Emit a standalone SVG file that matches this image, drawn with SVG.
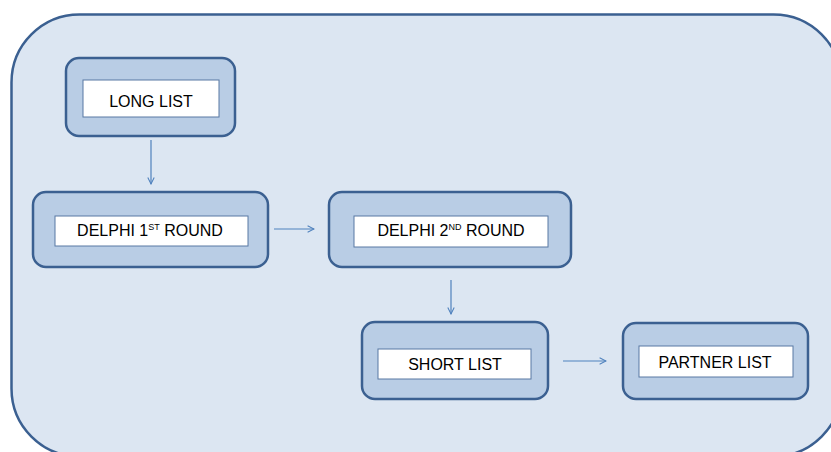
<svg xmlns="http://www.w3.org/2000/svg" width="831" height="452" viewBox="0 0 831 452">
<defs>
<style>
.box{fill:#B9CDE5;stroke:#3B6091;stroke-width:2.5}
.inner{fill:#FFFFFF;stroke:#5878A3;stroke-width:1}
.lbl{font-family:"Liberation Sans",Arial,sans-serif;font-size:16px;fill:#000;text-anchor:middle}
.sup{font-size:9px}
.conn{stroke:#4F81BD;stroke-width:1.2;fill:none}
</style>
<marker id="arr" viewBox="0 0 10 10" refX="9" refY="5" markerWidth="8" markerHeight="8" markerUnits="userSpaceOnUse" orient="auto">
<path d="M1,1 L9,5 L1,9" fill="none" stroke="#4F81BD" stroke-width="1.3"/>
</marker>
</defs>
<rect x="0" y="0" width="831" height="452" fill="#FFFFFF"/>
<rect id="background" x="11.5" y="14.5" width="830" height="442" rx="68" ry="68" fill="#DCE6F2" stroke="#3B6091" stroke-width="2.5"/>
<g id="connectors">
<line class="conn" x1="151" y1="140" x2="151" y2="184" marker-end="url(#arr)"/>
<line class="conn" x1="274" y1="229" x2="314" y2="229" marker-end="url(#arr)"/>
<line class="conn" x1="451" y1="280" x2="451" y2="314" marker-end="url(#arr)"/>
<line class="conn" x1="563" y1="361" x2="606" y2="361" marker-end="url(#arr)"/>
</g>
<g id="long-list">
<rect class="box" x="66" y="58" width="169" height="78" rx="13"/>
<rect class="inner" x="83" y="80" width="136" height="37"/>
<text class="lbl" x="151" y="107">LONG LIST</text>
</g>
<g id="delphi-1">
<rect class="box" x="33" y="192" width="235" height="75" rx="13"/>
<rect class="inner" x="55" y="216" width="193" height="30"/>
<text class="lbl" x="150" y="236">DELPHI 1<tspan class="sup" dy="-6">ST</tspan><tspan dy="6"> ROUND</tspan></text>
</g>
<g id="delphi-2">
<rect class="box" x="329" y="192" width="242" height="75" rx="13"/>
<rect class="inner" x="354" y="216" width="194" height="31"/>
<text class="lbl" x="451" y="236">DELPHI 2<tspan class="sup" dy="-6">ND</tspan><tspan dy="6"> ROUND</tspan></text>
</g>
<g id="short-list">
<rect class="box" x="362" y="322" width="186" height="77" rx="13"/>
<rect class="inner" x="378" y="349" width="153" height="30"/>
<text class="lbl" x="455" y="370">SHORT LIST</text>
</g>
<g id="partner-list">
<rect class="box" x="623" y="323" width="185" height="76" rx="13"/>
<rect class="inner" x="639" y="346" width="154" height="31"/>
<text class="lbl" x="715" y="368">PARTNER LIST</text>
</g>
</svg>
